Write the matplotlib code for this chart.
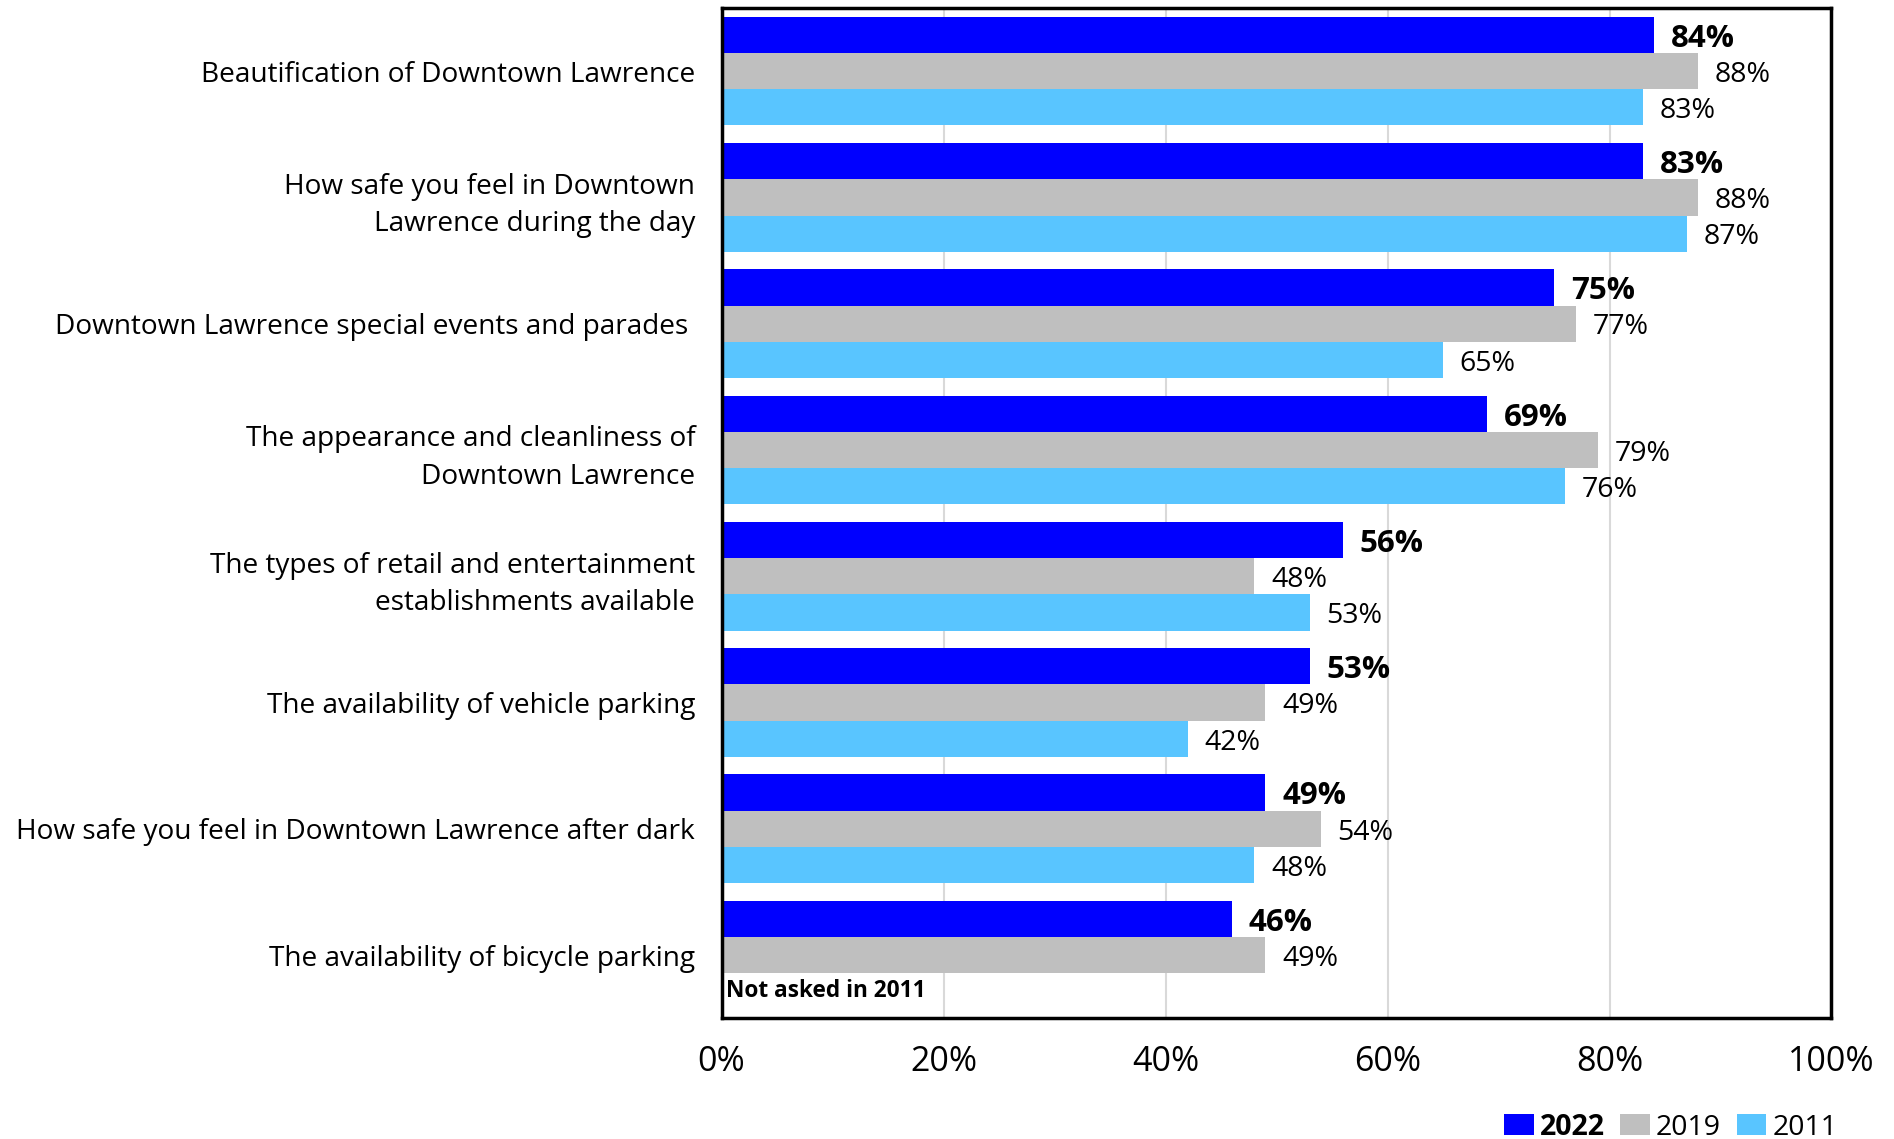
import matplotlib.pyplot as plt
from matplotlib.patches import Patch
import numpy as np

plt.rcParams['font.family'] = ['Open Sans', 'DejaVu Sans']

categories = [
    "Beautification of Downtown Lawrence",
    "How safe you feel in Downtown\nLawrence during the day",
    "Downtown Lawrence special events and parades ",
    "The appearance and cleanliness of\nDowntown Lawrence",
    "The types of retail and entertainment\nestablishments available",
    "The availability of vehicle parking",
    "How safe you feel in Downtown Lawrence after dark",
    "The availability of bicycle parking",
]
v2022 = [84, 83, 75, 69, 56, 53, 49, 46]
v2019 = [88, 88, 77, 79, 48, 49, 54, 49]
v2011 = [83, 87, 65, 76, 53, 42, 48, None]
years = ["2022", "2019", "2011"]
colors = ["#0000FF", "#BFBFBF", "#59C5FF"]

fig = plt.figure(figsize=(18.94, 11.39), dpi=100)
ax = fig.add_axes([0.381, 0.106, 0.586, 0.887])

y = np.arange(len(categories))
h = 0.287
for k, (vals, col) in enumerate(zip([v2022, v2019, v2011], colors)):
    for i, v in enumerate(vals):
        if v is None:
            continue
        yy = y[i] + (k - 1) * h
        ax.barh(yy, v, height=h, color=col, zorder=2)
        # labels sit a touch below the bar centre, like the original
        if k == 0:
            ax.text(v + 1.5, yy + 0.03, f"{v}%", va="center", ha="left",
                    fontsize=22.5, fontweight="bold")
        else:
            ax.text(v + 1.5, yy + 0.03, f"{v}%", va="center", ha="left",
                    fontsize=20.5)

ax.text(0.4, y[-1] + h, "Not asked in 2011", va="center", ha="left",
        fontsize=16.3, fontweight="bold", zorder=3)

ax.set_xlim(0, 100)
ax.set_ylim(len(categories) - 0.5, -0.5)
ax.set_xticks(np.arange(0, 101, 20))
ax.set_xticklabels([f"{t}%" for t in range(0, 101, 20)], fontsize=24.5)
ax.set_yticks(y)
ax.set_yticklabels(categories, fontsize=20.2, linespacing=1.45)
ax.tick_params(axis="both", length=0)
ax.tick_params(axis="x", pad=19)
ax.tick_params(axis="y", pad=19)
ax.grid(axis="x", color="#D9D9D9", linewidth=1.5, zorder=0)
for s in ax.spines.values():
    s.set_linewidth(2.5)
    s.set_color("black")

handles = [Patch(facecolor=c, edgecolor="none") for c in colors]
leg = fig.legend(handles, years, loc="center right", bbox_to_anchor=(0.9775, 0.0105),
                 ncol=3, frameon=False, fontsize=20.5, handlelength=1.05,
                 handleheight=0.75, handletextpad=0.2, columnspacing=0.55,
                 borderpad=0)
leg.get_texts()[0].set_fontweight("bold")

fig.savefig("out.png", dpi=100)
